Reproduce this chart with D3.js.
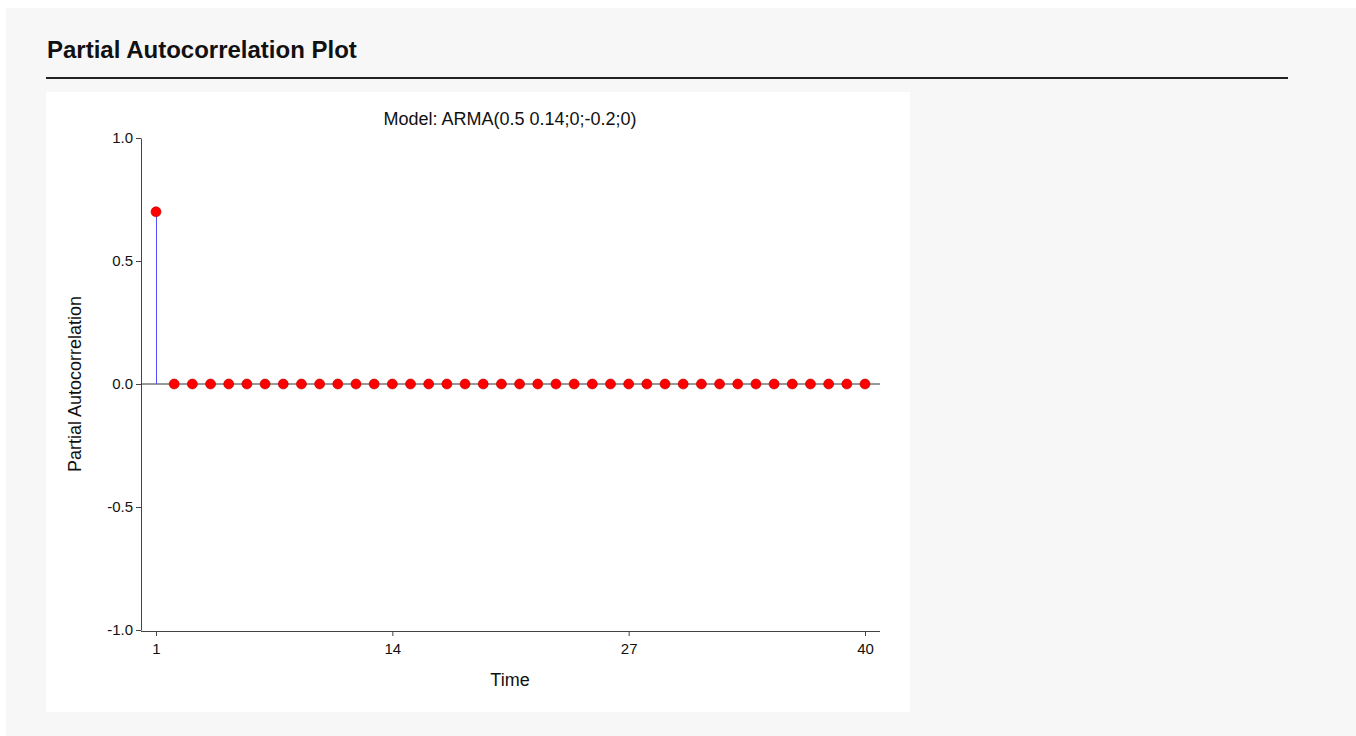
<!DOCTYPE html>
<html>
<head>
<meta charset="utf-8">
<script src="https://cdn.jsdelivr.net/npm/d3@7"></script>
<style>
  body { margin: 0; background: #fff; }
  svg { display: block; font-family: "Liberation Sans", Arial, sans-serif; }
</style>
</head>
<body>
<svg width="1356" height="736"></svg>
<script>
// lags 1..40 and their partial autocorrelations
var lags = d3.range(1, 41);
var pacf = [0.7, 0, 0, 0, 0, 0, 0, 0, 0, 0,
            0, 0, 0, 0, 0, 0, 0, 0, 0, 0,
            0, 0, 0, 0, 0, 0, 0, 0, 0, 0,
            0, 0, 0, 0, 0, 0, 0, 0, 0, 0];
var xTicks = [1, 14, 27, 40];
var yTicks = [-1.0, -0.5, 0.0, 0.5, 1.0];

var svg = d3.select("svg");

// page panel
svg.append("rect")
    .attr("x", 6).attr("y", 8)
    .attr("width", 1350).attr("height", 728)
    .attr("fill", "#f7f7f7");

svg.append("text")
    .attr("x", 47).attr("y", 58)
    .attr("font-size", "24px")
    .attr("font-weight", "bold")
    .attr("fill", "#111")
    .text("Partial Autocorrelation Plot");

svg.append("line")
    .attr("x1", 46).attr("x2", 1288)
    .attr("y1", 78).attr("y2", 78)
    .attr("stroke", "#222")
    .attr("stroke-width", 2);

svg.append("rect")
    .attr("x", 46).attr("y", 92)
    .attr("width", 864).attr("height", 620)
    .attr("fill", "#fff");

var x = d3.scaleLinear().domain([1, 40]).range([156, 865]),
    y = d3.scaleLinear().domain([-1, 1]).range([630, 138]);

svg.append("text")
    .attr("x", 510).attr("y", 125)
    .attr("text-anchor", "middle")
    .attr("font-size", "18px")
    .attr("fill", "#111")
    .text("Model: ARMA(0.5 0.14;0;-0.2;0)");

// y axis
var yAxis = svg.append("g")
    .attr("transform", "translate(141,0)")
    .call(d3.axisLeft(y).tickValues(yTicks).tickSize(5).tickSizeOuter(0)
        .tickFormat(function(d) { return d.toFixed(1); }));

// x axis
var xAxis = svg.append("g")
    .attr("transform", "translate(0,631)")
    .call(d3.axisBottom(x).tickValues(xTicks).tickSize(5).tickSizeOuter(0));
xAxis.select(".domain").attr("d", "M141,0.5H880");

[yAxis, xAxis].forEach(function(a) {
    a.selectAll("text").attr("font-size", "15px").attr("fill", "#111")
        .attr("font-family", "'Liberation Sans', Arial, sans-serif");
    a.selectAll("line, path").attr("stroke", "#444");
});
xAxis.selectAll("text").attr("dy", "1em");

svg.append("text")
    .attr("x", 510).attr("y", 686)
    .attr("text-anchor", "middle")
    .attr("font-size", "18px")
    .attr("fill", "#111")
    .text("Time");

svg.append("text")
    .attr("transform", "translate(81," + y(0) + ") rotate(-90)")
    .attr("text-anchor", "middle")
    .attr("font-size", "18px")
    .attr("fill", "#111")
    .text("Partial Autocorrelation");

// zero line
svg.append("line")
    .attr("x1", 141).attr("x2", 880)
    .attr("y1", y(0)).attr("y2", y(0))
    .attr("stroke", "#333");

var g = svg.append("g");

g.selectAll(".stem")
    .data(lags)
    .enter().append("line")
    .attr("class", "stem")
    .attr("x1", function(d) { return x(d); })
    .attr("x2", function(d) { return x(d); })
    .attr("y1", y(0))
    .attr("y2", function(d, i) { return y(pacf[i]); })
    .attr("stroke", "#5050ff")
    .attr("stroke-width", 1)
    .attr("shape-rendering", "crispEdges");

g.selectAll(".dot")
    .data(lags)
    .enter().append("circle")
    .attr("class", "dot")
    .attr("cx", function(d) { return x(d); })
    .attr("cy", function(d, i) { return y(pacf[i]); })
    .attr("r", 5)
    .attr("fill", "#ff0000")
    .attr("stroke", "#b00000")
    .attr("stroke-width", 0.6);
</script>
</body>
</html>
